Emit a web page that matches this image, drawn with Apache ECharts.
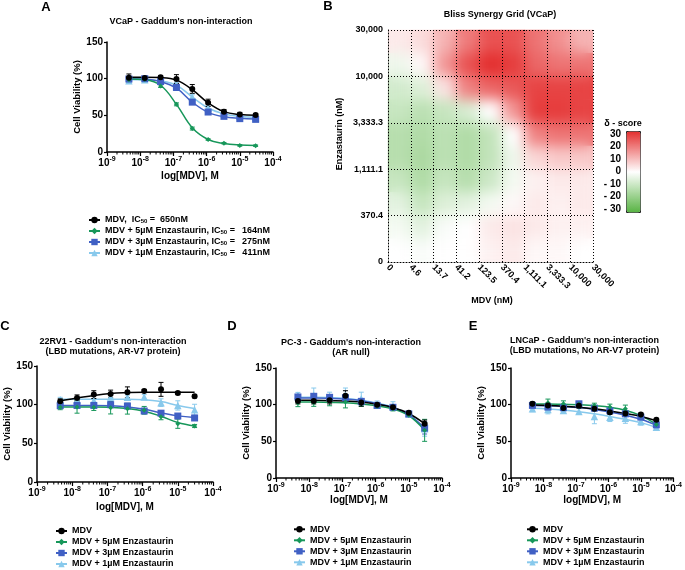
<!DOCTYPE html>
<html><head><meta charset="utf-8">
<script src="https://cdn.jsdelivr.net/npm/echarts@6/dist/echarts.min.js"></script>
<style>
html,body{margin:0;padding:0;background:#fff}
#wrap{position:relative;width:685px;height:570px;background:#fff}
#heatBase,#c{position:absolute;left:0;top:0;width:685px;height:570px}
#blurClip{position:absolute;left:388px;top:30px;width:205px;height:232px;overflow:hidden}
#heatBlur{width:205px;height:232px;filter:blur(7px)}
</style>
</head><body><div id="wrap"><div id="heatBase"></div><div id="blurClip"><div id="heatBlur"></div></div><div id="c"></div></div>
<script>
// ---------- DATA ----------
const conc = [4.57e-9, 1.372e-8, 4.115e-8, 1.235e-7, 3.704e-7, 1.111e-6, 3.333e-6, 1e-5, 3e-5];
const condNames = ['MDV', 'MDV + 5µM Enzastaurin', 'MDV + 3µM Enzastaurin', 'MDV + 1µM Enzastaurin'];
const icA = ['650nM', '164nM', '275nM', '411nM'];
const yTicks = [0, 50, 100, 150];

// Panel A (VCaP)
const A_mdv = [101.4, 101, 102, 99.5, 86, 67, 55, 51, 50.5];
const A_mdvFit = [102, 102, 101.5, 98, 85, 67, 55, 51, 50];
const A_mdvErr = [5, 2, 2, 6, 6, 5, 3, 3, 2];
const A_e5 = [98.6, 99, 90, 65, 32, 17, 12, 9, 8.6];
const A_e5Fit = [99.5, 98.5, 91, 65, 33, 17, 11.5, 9.5, 9];
const A_e5Err = [3, 2, 2, 2, 2, 1, 1, 1, 1];
const A_e3 = [99.5, 100, 96, 88, 68, 54.5, 48.6, 45.5, 44.5];
const A_e3Fit = [100, 99.5, 96, 87, 68, 54, 48, 46, 45];
const A_e3Err = [2, 2, 2, 4, 3, 2, 2, 2, 2];
const A_e1 = [97, 98.6, 97, 92, 75, 60.5, 52, 48.6, 47];
const A_e1Fit = [99, 98.5, 97, 91, 75, 60, 52, 48.5, 47.5];
const A_e1Err = [3, 2, 2, 3, 3, 2, 2, 2, 2];

// Panel C (22RV1)
const C_mdv = [104.5, 108.6, 113, 113.8, 116, 117.7, 119.8, 115, 110.8];
const C_mdvFit = [105, 108.5, 112, 114.5, 115.5, 116, 116, 116, 116];
const C_mdvErr = [3, 4, 5, 5, 7, 2, 9, 2, 2];
const C_e5 = [96.5, 97, 96.5, 96, 94.8, 92.7, 84.5, 75.4, 72.4];
const C_e5Fit = [97, 97, 97, 96.5, 95, 91.5, 85, 77, 72.5];
const C_e5Err = [3, 8, 4, 8, 7, 5, 4, 6, 2];
const C_e3 = [98.7, 99, 99, 100, 98.3, 91.8, 89, 85.3, 82.8];
const C_e3Fit = [99, 99, 99, 98.5, 97, 94, 89.5, 85.5, 83.5];
const C_e3Err = [3, 3, 3, 3, 3, 3, 3, 3, 3];
const C_e1 = [106.5, 105.6, 105, 110, 109.5, 110, 102.6, 99, 93.5];
const C_e1Fit = [107, 107, 107, 107, 107, 106.5, 104, 99, 95];
const C_e1Err = [3, 3, 3, 5, 3, 3, 5, 6, 7];

// Panel D (PC-3)
const D_mdv = [105, 105, 106, 112, 103, 100, 96.5, 89, 74];
const D_mdvFit = [106, 106, 105.5, 105, 103.5, 100.5, 96, 88, 74];
const D_mdvErr = [4, 4, 5, 7, 5, 3, 3, 2, 5];
const D_e5 = [102.3, 102.7, 104.5, 103.6, 102.7, 98, 94.5, 85.5, 65];
const D_e5Fit = [103.5, 103.5, 103, 102.5, 101, 98.5, 94, 85, 65];
const D_e5Err = [5, 5, 6, 8, 5, 3, 3, 2, 15];
const D_e3 = [110.5, 111.4, 110, 109.5, 104.5, 99, 96.4, 87.3, 68];
const D_e3Fit = [109, 109, 108.5, 107.5, 105.5, 101.5, 96, 86, 68];
const D_e3Err = [3, 3, 3, 3, 3, 3, 3, 2, 8];
const D_e1 = [112.7, 112.7, 111, 112.7, 108, 100, 98, 87.7, 67];
const D_e1Fit = [110, 110, 109.5, 108.5, 106, 102, 96.5, 86.5, 67];
const D_e1Err = [4, 10, 6, 10, 9, 5, 6, 2, 10];

// Panel E (LNCaP)
const E_mdv = [101.2, 99, 95.3, 98.5, 94.4, 89.8, 88, 86.6, 79.3];
const E_mdvFit = [99.5, 99, 98, 96.5, 94.5, 91.5, 88, 84, 78];
const E_mdvErr = [2, 3, 3, 3, 3, 3, 3, 2, 2];
const E_e5 = [101.7, 102.6, 101.2, 100.8, 99, 96.7, 94.4, 85.3, 73];
const E_e5Fit = [101, 101, 100.5, 100, 98.5, 96.5, 92.5, 85, 73];
const E_e5Err = [2, 5, 4, 3, 3, 4, 5, 2, 3];
const E_e3 = [99, 96.7, 95.8, 101.2, 95.3, 91.7, 87.5, 83, 72.5];
const E_e3Fit = [99, 98.5, 97.5, 96, 93.5, 90, 85.5, 80, 72];
const E_e3Err = [3, 4, 3, 3, 3, 3, 3, 3, 3];
const E_e1 = [94.4, 93.5, 92, 90.7, 84, 83, 81.6, 77, 69.3];
const E_e1Fit = [95, 94, 92.5, 90.5, 87.5, 84, 80, 75.5, 69];
const E_e1Err = [4, 6, 4, 4, 10, 6, 7, 5, 4];

// Panel B (Bliss synergy, delta-score) rows from top (Enzastaurin 30,000) to bottom (0), half-interval resolution
const blissX = ['0', '4.6', '13.7', '41.2', '123.5', '370.4', '1,111.1', '3,333.3', '10,000', '30,000'];
const blissY = ['0', '370.4', '1,111.1', '3,333.3', '10,000', '30,000'];
const bliss_r0 = [3, 5, 11, 19, 25, 25, 20, 16, 11];
const bliss_r1 = [-3, 1, 15, 25, 30, 28, 22, 20, 20];
const bliss_r2 = [-8, -6, 4, 18, 22, 24, 27, 27, 27];
const bliss_r3 = [-10, -12, -10, -7, 0, 15, 28, 28, 27];
const bliss_r4 = [-13, -14, -12, -14, -11, 0, 18, 20, 20];
const bliss_r5 = [-13, -15, -12, -14, -11, -3, 6, 8, 8];
const bliss_r6 = [-10, -14, -10, -13, -9, -2, 2, 3, 3];
const bliss_r7 = [-5, -10, -6, -5, -2, 1, 3, 2, 3];
const bliss_r8 = [-2, -5, -1, 0, 3, 4, 3, 2, 2];
const bliss_r9 = [0, -1, 0, 0, 2, 3, 1, 1, 0];
const scoreTicks = [-30, -20, -10, 0, 10, 20, 30];

// ---------- CHART ----------
const FONT = '"Liberation Sans", Arial, Helvetica, sans-serif';
const COLORS = ['#000000', '#17975a', '#4060c4', '#88c9ec'];
const SYMS = ['circle', 'diamond', 'rect', 'triangle'];
const SYMSIZE = [6, 5, 7, 7.5];
const HEAT_COLORS = ['#58b343', '#ffffff', '#e42f2f'];

const panels = [
  { key: 'A', grid: { left: 107, top: 42, width: 166, height: 110 }, means: [A_mdv, A_e5, A_e3, A_e1], fits: [A_mdvFit, A_e5Fit, A_e3Fit, A_e1Fit], errs: [A_mdvErr, A_e5Err, A_e3Err, A_e1Err], xGap: 19, yGap: 24 },
  { key: 'C', grid: { left: 37, top: 366, width: 176, height: 116 }, means: [C_mdv, C_e5, C_e3, C_e1], fits: [C_mdvFit, C_e5Fit, C_e3Fit, C_e1Fit], errs: [C_mdvErr, C_e5Err, C_e3Err, C_e1Err], xGap: 20, yGap: 22 },
  { key: 'D', grid: { left: 276, top: 368, width: 166, height: 110 }, means: [D_mdv, D_e5, D_e3, D_e1], fits: [D_mdvFit, D_e5Fit, D_e3Fit, D_e1Fit], errs: [D_mdvErr, D_e5Err, D_e3Err, D_e1Err], xGap: 16, yGap: 22 },
  { key: 'E', grid: { left: 511, top: 368, width: 165, height: 110 }, means: [E_mdv, E_e5, E_e3, E_e1], fits: [E_mdvFit, E_e5Fit, E_e3Fit, E_e1Fit], errs: [E_mdvErr, E_e5Err, E_e3Err, E_e1Err], xGap: 17, yGap: 23 }
];

const minorTicks = [];
for (let e = -9; e < -4; e++) for (let k = 2; k <= 9; k++) minorTicks.push([k * Math.pow(10, e), 0]);

const grids = [], xAxes = [], yAxes = [], series = [];
const boldTxt = (size) => ({ fontSize: size, fontWeight: 'bold', fontFamily: FONT, color: '#000' });

panels.forEach((p, gi) => {
  grids.push(Object.assign({ containLabel: false }, p.grid));
  xAxes.push({
    gridIndex: gi, type: 'log', logBase: 10, min: 1e-9, max: 1e-4, splitNumber: 5,
    name: 'log[MDV], M', nameLocation: 'middle', nameGap: p.xGap, nameTextStyle: boldTxt(10),
    axisLine: { lineStyle: { color: '#000', width: 1.5 } },
    axisTick: { length: 4, lineStyle: { color: '#000', width: 1.2 } },
    splitLine: { show: false },
    axisLabel: {
      margin: 4,
      formatter: (v) => '{b|10}{s|' + Math.round(Math.log10(v)) + '}',
      rich: {
        b: Object.assign(boldTxt(10), { lineHeight: 12, verticalAlign: 'bottom' }),
        s: Object.assign(boldTxt(7), { lineHeight: 12, verticalAlign: 'top' })
      }
    }
  });
  yAxes.push({
    gridIndex: gi, type: 'value', min: yTicks[0], max: yTicks[yTicks.length - 1], interval: 50,
    name: 'Cell Viability (%)', nameLocation: 'middle', nameGap: p.yGap, nameRotate: 90, nameTextStyle: boldTxt(9.5),
    axisLine: { show: true, lineStyle: { color: '#000', width: 1.5 } },
    axisTick: { show: true, length: 3, lineStyle: { color: '#000', width: 1.2 } },
    splitLine: { show: false },
    axisLabel: Object.assign(boldTxt(10), { margin: 4 })
  });
  series.push({
    type: 'custom', name: 'minor' + p.key, xAxisIndex: gi, yAxisIndex: gi, silent: true,
    data: minorTicks, encode: { x: 0, y: 1 }, z: 1,
    renderItem: (params, api) => {
      const c = api.coord([api.value(0), 0]);
      return { type: 'line', shape: { x1: c[0], y1: c[1], x2: c[0], y2: c[1] + 2.5 }, style: { stroke: '#000', lineWidth: 1 } };
    }
  });
  [3, 2, 1, 0].forEach((ci, order) => {
    const col = COLORS[ci];
    series.push({
      type: 'custom', name: 'err' + p.key + ci, xAxisIndex: gi, yAxisIndex: gi, silent: true, z: 3 + order,
      data: conc.map((x, j) => [x, p.means[ci][j] - p.errs[ci][j], p.means[ci][j] + p.errs[ci][j]]),
      encode: { x: 0, y: [1, 2] },
      renderItem: (params, api) => {
        const lo = api.coord([api.value(0), api.value(1)]);
        const hi = api.coord([api.value(0), api.value(2)]);
        const w = 2.5, st = { stroke: col, lineWidth: 1 };
        return { type: 'group', children: [
          { type: 'line', shape: { x1: lo[0], y1: lo[1], x2: hi[0], y2: hi[1] }, style: st },
          { type: 'line', shape: { x1: lo[0] - w, y1: lo[1], x2: lo[0] + w, y2: lo[1] }, style: st },
          { type: 'line', shape: { x1: hi[0] - w, y1: hi[1], x2: hi[0] + w, y2: hi[1] }, style: st }
        ] };
      }
    });
    series.push({
      type: 'line', name: condNames[ci], xAxisIndex: gi, yAxisIndex: gi, silent: true, z: 3 + order,
      data: conc.map((x, j) => [x, p.fits[ci][j]]),
      smooth: 0.4, symbol: SYMS[ci], symbolSize: SYMSIZE[ci], showSymbol: false,
      lineStyle: { color: col, width: 1.5 }, itemStyle: { color: col }, animation: false
    });
    series.push({
      type: 'scatter', name: 'pts' + p.key + ci, xAxisIndex: gi, yAxisIndex: gi, silent: true, z: 8 + order,
      data: conc.map((x, j) => [x, p.means[ci][j]]),
      symbol: SYMS[ci], symbolSize: SYMSIZE[ci], itemStyle: { color: col, opacity: 1 }, animation: false
    });
  });
});

// Panel B visible axes (grid 4) and score-scale labels (grid 5); heat cells drawn in layers below
const gB = { left: 388, top: 30, width: 205, height: 232 };
grids.push(Object.assign({}, gB));
grids.push({ left: 623, top: 134, width: 1, height: 75 });
const dotted = { color: '#000', width: 1, type: [1, 2] };
xAxes.push({
  gridIndex: 4, type: 'category', data: blissX, boundaryGap: false, z: 10,
  axisLine: { lineStyle: dotted }, axisTick: { length: 3, lineStyle: { color: '#000', width: 1 } },
  splitLine: { show: true, lineStyle: dotted },
  axisLabel: Object.assign(boldTxt(9), { rotate: -45, margin: 4, interval: 0 })
});
yAxes.push({
  gridIndex: 4, type: 'category', data: blissY, boundaryGap: false, z: 10,
  axisLine: { lineStyle: dotted }, axisTick: { length: 3, lineStyle: { color: '#000', width: 1 } },
  splitLine: { show: true, lineStyle: dotted },
  axisLabel: Object.assign(boldTxt(9), { margin: 5, interval: 0 })
});
xAxes.push({ gridIndex: 5, type: 'value', show: false });
yAxes.push({
  gridIndex: 5, type: 'value', min: scoreTicks[0], max: scoreTicks[scoreTicks.length - 1], interval: 10,
  axisLine: { show: false }, axisTick: { show: false }, splitLine: { show: false },
  axisLabel: Object.assign(boldTxt(10), { margin: 2, formatter: (v) => v < 0 ? '- ' + (-v) : String(v) })
});

const blissRows = [bliss_r0, bliss_r1, bliss_r2, bliss_r3, bliss_r4, bliss_r5, bliss_r6, bliss_r7, bliss_r8, bliss_r9];
const heatData = [];
blissRows.forEach((row, r) => row.forEach((v, c) => heatData.push([c, blissRows.length - 1 - r, v])));

// legends
const legendBase = {
  orient: 'vertical', padding: 0, itemGap: 2, itemWidth: 11, itemHeight: 8, selectedMode: false,
  data: condNames, textStyle: Object.assign(boldTxt(9), { lineHeight: 9 })
};
const legends = [
  Object.assign({}, legendBase, {
    left: 88, top: 215.5,
    formatter: (name) => {
      const i = condNames.indexOf(name);
      if (i === 0) return '{t|MDV,  IC}{s|50}{t| =  ' + icA[0] + '}';
      return '{t|' + name + ', IC}{s|50}{t| =}{v|' + icA[i] + '}';
    },
    textStyle: Object.assign(boldTxt(9), { lineHeight: 9, rich: {
      t: Object.assign(boldTxt(9), { lineHeight: 9, verticalAlign: 'bottom' }),
      s: Object.assign(boldTxt(6), { lineHeight: 9, verticalAlign: 'bottom' }),
      v: Object.assign(boldTxt(9), { lineHeight: 9, width: 35, align: 'right', verticalAlign: 'bottom' })
    } })
  }),
  Object.assign({}, legendBase, { left: 55, top: 526.5 }),
  Object.assign({}, legendBase, { left: 293, top: 524.8 }),
  Object.assign({}, legendBase, { left: 526, top: 524.8 })
];

const txt = (text, x, y, size, extra) => Object.assign({
  type: 'text', x: x, y: y, silent: true,
  style: { text: text, font: 'bold ' + size + 'px ' + FONT, fill: '#000', align: 'center', verticalAlign: 'middle', lineHeight: 10 }
}, extra || {});

const graphics = [
  txt('A', 46, 7, 13), txt('B', 328, 6, 13), txt('C', 5, 326, 13), txt('D', 232, 326, 13), txt('E', 473, 326, 13),
  txt("VCaP - Gaddum's non-interaction", 181, 22, 9),
  txt('Bliss Synergy Grid (VCaP)', 500, 15, 9),
  txt("22RV1 - Gaddum's non-interaction\n(LBD mutations, AR-V7 protein)", 113, 346.7, 9),
  txt("PC-3 - Gaddum's non-interaction\n(AR null)", 351, 347.5, 9),
  txt("LNCaP - Gaddum's non-interaction\n(LBD mutations, No AR-V7 protein)", 584.5, 346, 9),
  txt('Enzastaurin (nM)', 340, 134, 9, { rotation: Math.PI / 2 }),
  txt('MDV (nM)', 492, 301, 9),
  txt('δ - score', 623, 124, 9)
];

// heat layer option (shared by sharp base and blurred smoothing layer)
function heatOption(gridRect, showBar) {
  return {
    animation: false,
    backgroundColor: 'transparent',
    grid: gridRect,
    xAxis: { type: 'category', data: blissX.slice(0, blissX.length - 1), show: false },
    yAxis: { type: 'category', data: blissRows.map((r, i) => String(i)), show: false },
    visualMap: [{
      type: 'continuous', seriesIndex: 0, min: scoreTicks[0], max: scoreTicks[scoreTicks.length - 1],
      calculable: false, hoverLink: false, show: showBar,
      orient: 'vertical', left: 626, top: 131, itemWidth: 14, itemHeight: 81, padding: 0,
      borderColor: '#222', borderWidth: 1,
      inRange: { color: HEAT_COLORS }
    }],
    series: [{ type: 'heatmap', data: heatData, silent: true, emphasis: { disabled: true } }]
  };
}

const base = echarts.init(document.getElementById('heatBase'), null, { renderer: 'canvas' });
base.setOption(heatOption(Object.assign({}, gB), true));
const blurred = echarts.init(document.getElementById('heatBlur'), null, { renderer: 'canvas' });
blurred.setOption(heatOption({ left: 0, top: 0, right: 0, bottom: 0 }, false));

const chart = echarts.init(document.getElementById('c'), null, { renderer: 'canvas' });
chart.setOption({
  animation: false,
  backgroundColor: 'transparent',
  textStyle: { fontFamily: FONT },
  grid: grids, xAxis: xAxes, yAxis: yAxes,
  legend: legends,
  graphic: graphics,
  series: series
});
</script></body></html>
